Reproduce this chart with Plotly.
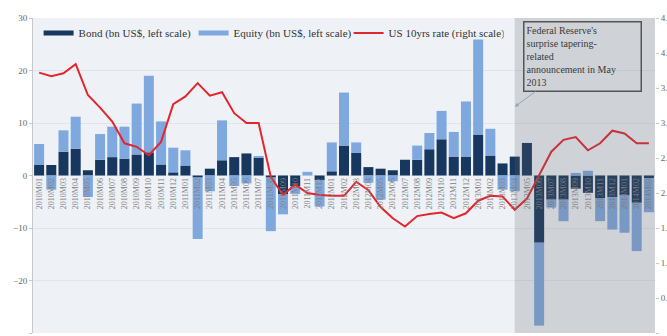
import plotly.graph_objects as go

# Monthly categories, Jan 2010 - Mar 2014
months = (
    ["2010M01", "2010M02", "2010M03", "2010M04", "2010M05", "2010M06",
     "2010M07", "2010M08", "2010M09", "2010M10", "2010M11", "2010M12"]
    + ["2011M01", "2011M02", "2011M03", "2011M04", "2011M05", "2011M06",
       "2011M07", "2011M08", "2011M09", "2011M10", "2011M11", "2011M12"]
    + ["2012M01", "2012M02", "2012M03", "2012M04", "2012M05", "2012M06",
       "2012M07", "2012M08", "2012M09", "2012M10", "2012M11", "2012M12"]
    + ["2013M01", "2013M02", "2013M03", "2013M04", "2013M05", "2013M06",
       "2013M07", "2013M08", "2013M09", "2013M10", "2013M11", "2013M12"]
    + ["2014M01", "2014M02", "2014M03"]
)

# Portfolio flows, bn US$ (left scale)
bond = [2.0, 2.0, 4.5, 5.1, 1.0, 3.0, 3.5, 3.2, 4.0, 4.4, 2.1, 0.6,
        1.9, -0.4, 1.3, 2.9, 3.5, 4.2, 3.4, -0.4, -3.6, -2.0, 0.0, -0.9,
        0.8, 5.7, 4.3, 1.6, 1.3, 1.0, 3.0, 3.0, 5.0, 6.9, 3.6, 3.6,
        7.8, 3.8, 2.3, 3.6, 6.2, -12.8, -4.6, -4.6, -2.5, -3.3, -4.3, -4.1,
        -3.8, -5.2, -0.5]
equity = [4.0, -2.7, 4.1, 6.1, -4.1, 4.9, 5.8, 6.1, 9.7, 14.6, 8.2, 4.7,
          2.9, -11.7, -3.0, 7.6, -2.0, -1.5, 0.3, -10.2, -3.8, -1.5, 0.7, -5.0,
          5.5, 10.1, 2.0, -1.4, -4.6, -1.1, 0.0, 2.7, 3.1, 5.4, 4.7, 10.5,
          18.1, 5.1, -2.7, -3.0, 0.0, -15.8, -1.5, -4.1, 0.5, 0.9, -4.4, -6.2,
          -7.1, -9.2, -6.5]

# US 10-year Treasury yield, % (right scale)
us10y = [3.72, 3.67, 3.71, 3.84, 3.40, 3.22, 3.02, 2.71, 2.66, 2.54, 2.73, 3.27,
         3.38, 3.57, 3.39, 3.44, 3.14, 3.00, 3.00, 2.23, 1.97, 2.12, 2.00, 1.97,
         1.96, 1.96, 2.16, 2.04, 1.80, 1.64, 1.52, 1.67, 1.70, 1.72, 1.64, 1.71,
         1.89, 1.96, 1.95, 1.76, 1.92, 2.26, 2.59, 2.76, 2.80, 2.61, 2.71, 2.89,
         2.85, 2.71, 2.71]

left_ticks = [-30, -20, -10, 0, 10, 20, 30]
right_ticks = [0.0, 0.5, 1.0, 1.5, 2.0, 2.5, 3.0, 3.5, 4.0, 4.5]

BOND_COLOR = "#17375E"
EQUITY_COLOR = "#7FA8DE"
RATE_COLOR = "#E3262D"
FONT = "Liberation Serif, Times New Roman, serif"

fig = go.Figure()

fig.add_trace(go.Bar(x=months, y=bond, name="Bond (bn US$, left scale)",
                     marker=dict(color=BOND_COLOR, line=dict(width=0)),
                     showlegend=False, legendgroup="bond"))
fig.add_trace(go.Bar(x=months, y=equity, name="Equity (bn US$, left scale)",
                     marker=dict(color=EQUITY_COLOR, line=dict(width=0)),
                     showlegend=False, legendgroup="equity"))
fig.add_trace(go.Scatter(x=months, y=us10y, name="US 10yrs rate (right scale)",
                         yaxis="y2", mode="lines",
                         line=dict(color=RATE_COLOR, width=2),
                         showlegend=False, legendgroup="rate"))

# legend keys drawn as short thick strokes
for name, color, width, grp in [
    ("Bond (bn US$, left scale)", BOND_COLOR, 5, "bond"),
    ("Equity (bn US$, left scale)", EQUITY_COLOR, 5, "equity"),
    ("US 10yrs rate (right scale)", RATE_COLOR, 2, "rate"),
]:
    fig.add_trace(go.Scatter(x=[None], y=[None], mode="lines", name=name,
                             line=dict(color=color, width=width),
                             legendgroup=grp, showlegend=True))

# shaded period after the tapering announcement
fig.add_shape(type="rect", xref="x", yref="paper", x0=39, x1=50.5, y0=0, y1=1,
              fillcolor="rgba(101,101,106,0.22)", line=dict(width=0), layer="above")

fig.add_annotation(
    x=39, y=13.1, xref="x", yref="y", ax=68, ay=-50,
    text="Federal Reserve's<br>surprise tapering-<br>related<br>announcement in May<br>2013",
    align="left", valign="top", width=112, height=64,
    font=dict(family=FONT, size=10, color="#3a3a3a"),
    bordercolor="#555555", borderwidth=1.5, borderpad=2,
    showarrow=True, arrowhead=2, arrowsize=0.8, arrowwidth=1,
    arrowcolor="#8EA6C6",
)

fig.update_layout(
    width=667, height=336, autosize=False,
    margin=dict(l=33, r=12, t=18, b=3, autoexpand=False),
    paper_bgcolor="white", plot_bgcolor="#EEF2F7",
    barmode="relative", bargap=0.18,
    font=dict(family=FONT, color="#444"),
    legend=dict(orientation="h", x=0.009, y=0.952, xanchor="left", yanchor="middle",
                bgcolor="rgba(0,0,0,0)", font=dict(family=FONT, size=11, color="#333"),
                entrywidth=110, entrywidthmode="pixels", itemwidth=30,
                traceorder="normal"),
    xaxis=dict(type="category", anchor="free", position=0.5, range=[-0.5, 50.5],
               tickmode="array", tickvals=months, ticktext=months, tickangle=-90,
               tickfont=dict(family=FONT, size=8, color="#808080"),
               showline=False, ticks="", showgrid=False, zeroline=False,
               automargin=False),
    yaxis=dict(range=[-30, 30], tickmode="array", tickvals=left_ticks,
               tickfont=dict(family=FONT, size=9, color="#666"),
               showline=True, linecolor="#C8C8C8", linewidth=1,
               ticks="outside", ticklen=3, tickcolor="#C8C8C8",
               showgrid=True, gridcolor="#E1E5EB", gridwidth=1, zeroline=False,
               automargin=False),
    yaxis2=dict(range=[0, 4.5], overlaying="y", side="right", anchor="x",
                tickmode="array", tickvals=right_ticks, tickformat=".1f",
                tickfont=dict(family=FONT, size=9, color="#666"),
                ticks="outside", ticklen=3, tickcolor="#C8C8C8",
                showline=False, showgrid=False, zeroline=False,
                automargin=False),
)

fig.write_html("out.html")
